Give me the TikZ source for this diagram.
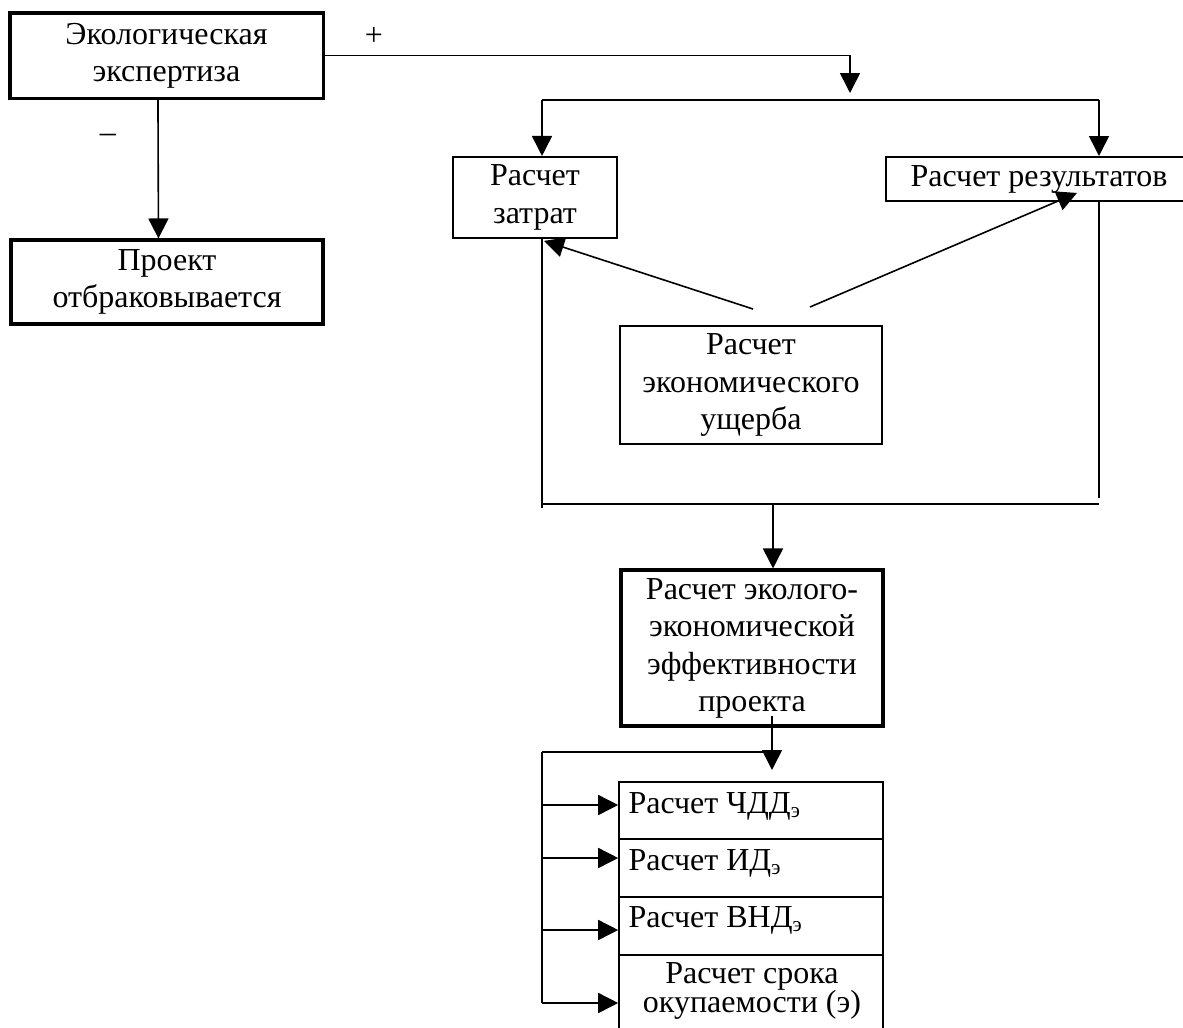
\documentclass[tikz,border=0pt]{standalone}
\usepackage{fontspec}
\setmainfont{Liberation Serif}
\usetikzlibrary{arrows.meta}
\begin{document}
\begin{tikzpicture}[x=0.375pt,y=-0.375pt,
  txt/.style={font=\fontsize{12}{14}\selectfont},
  box/.style={draw, inner sep=0pt, align=center, txt, line width=0.75pt},
  thickbox/.style={box, line width=1.15pt},
  cell/.style={draw, inner sep=0pt, line width=0.6pt, minimum width=99pt},
  conn/.style={line width=0.6pt},
  arr/.style={conn, -{Triangle[width=7.5pt,length=7.5pt]}},
  lbl/.style={inner sep=0pt, txt}]
\useasboundingbox (0,0) rectangle (1183,1028);

% boxes
\node[thickbox, minimum width=117.4pt, minimum height=31.9pt] (A) at (166.5,55.5) {\raisebox{-1.5pt}{\begin{tabular}{@{}c@{}}Экологическая\\экспертиза\end{tabular}}};
\node[thickbox, minimum width=117pt, minimum height=31.5pt] (B) at (167,282) {Проект\\отбраковывается};
\node[box, minimum width=61.5pt, minimum height=30.4pt] (C) at (535,197.5) {Расчет\\затрат};
\node[box, minimum width=114.75pt, minimum height=16.5pt] (D) at (1039,179) {Расчет результатов};
\node[box, minimum width=98.25pt, minimum height=44.25pt] (E) at (751,385) {Расчет\\экономического\\ущерба};
\node[thickbox, minimum width=98.25pt, minimum height=58.5pt] (F) at (752,648) {\raisebox{-1.8pt}{\begin{tabular}{@{}c@{}}Расчет эколого-\\экономической\\эффективности\\проекта\end{tabular}}};

\node[cell, minimum height=21.4pt] (G1) at (751,810.5) {};
\node[cell, minimum height=21.75pt] (G2) at (751,868) {};
\node[cell, minimum height=21.75pt] (G3) at (751,926) {};
\node[cell, minimum height=31.9pt] (G4) at (751,997.5) {};

\node[lbl, anchor=base west] (t1) at (628,813) {Расчет ЧДД\textsubscript{э}};
\node[lbl, anchor=base west] (t2) at (628,870) {Расчет ИД\textsubscript{э}};
\node[lbl, anchor=base west] (t3) at (628,927) {Расчет ВНД\textsubscript{э}};
\node[lbl, anchor=base] (t4a) at (752,983) {Расчет срока};
\node[lbl, anchor=base] (t4b) at (752,1012) {окупаемости (э)};

% labels
\node[lbl] (plus) at (374,36) {+};
\node[lbl] (minus) at (108,138) {–};

% connectors top
\coordinate (T) at (850,93);
\draw[arr] (A.east) -| (T);
\draw[arr] ([xshift=-3.2pt]A.south) -- ([xshift=-3.2pt]B.north);

\coordinate (BL) at (542,100);
\coordinate (BR) at (1099,100);
\draw[conn] (BL) -- (BR);
\draw[arr] (BL) -- (BL |- C.north);
\draw[arr] (BR) -- (BR |- D.north);

% enclosing frame
\coordinate (LL) at (542,508);
\coordinate (RR) at (1099,498);
\coordinate (HL) at (542,504);
\coordinate (HR) at (1099,504);
\draw[conn] (BL |- C.south) -- (LL);
\draw[conn] (BR |- D.south) -- (RR);
\draw[conn] (HL) -- (HR);
\coordinate (HM) at (773,504);
\draw[arr] (HM) -- (HM |- F.north);

% damage arrows
\coordinate (E1) at (753,309);
\coordinate (E2) at (810,307);
\draw[arr] (E1) -- ([xshift=3.4pt,yshift=-0.7pt]C.south);
\draw[arr] (E2) -- ([xshift=14.25pt,yshift=3.4pt]D.south);

% bottom
\coordinate (P) at (772,770);
\coordinate (Q) at (772,752);
\coordinate (QL) at (542,752);
\coordinate (QB) at (542,1003);
\draw[arr] ([xshift=7.5pt,yshift=4.5pt]F.south) -- (P);
\draw[conn] (QL) -- (Q);
\draw[conn] (QL) -- (QB);
\coordinate (a1) at (542,805);
\coordinate (a2) at (542,858);
\coordinate (a3) at (542,930);
\coordinate (a4) at (542,1003);
\draw[arr] (a1) -- (a1 -| G1.west);
\draw[arr] (a2) -- (a2 -| G2.west);
\draw[arr] (a3) -- (a3 -| G3.west);
\draw[arr] (a4) -- (a4 -| G4.west);
\end{tikzpicture}
\end{document}
